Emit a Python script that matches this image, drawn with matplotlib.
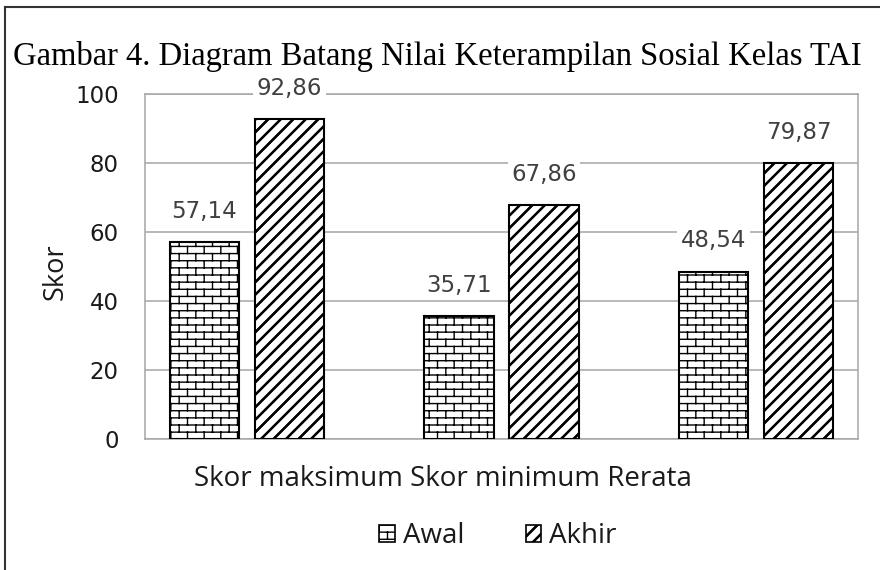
import warnings
warnings.filterwarnings("ignore")
import numpy as np
import matplotlib
matplotlib.use("Agg")
import matplotlib.pyplot as plt
import matplotlib.hatch as mhatch
from matplotlib.path import Path
from matplotlib.patches import Patch
from matplotlib.lines import Line2D

# ---- data ----
categories = ["Skor maksimum", "Skor minimum", "Rerata"]
series_names = ["Awal", "Akhir"]
awal = [57.14, 35.71, 48.54]
akhir = [92.86, 67.86, 79.87]
yticks = [0, 20, 40, 60, 80, 100]
title = "Gambar 4. Diagram Batang Nilai Keterampilan Sosial Kelas TAI"


# ---- custom hatches ----
class BrickHatch(mhatch.HatchPatternBase):
    R = 14
    B = 6

    def __init__(self, hatch, density):
        self.active = hatch.count('b') > 0
        self.num_vertices = (self.R + (self.R + 1) * self.B) * 2 if self.active else 0

    def set_vertices_and_codes(self, vertices, codes):
        R, B = self.R, self.B
        segs = []
        for i in range(R):
            y = (i + 0.5) / R
            segs.append(((0.0, y), (1.0, y)))
        for i in range(-1, R):
            y0 = (i + 0.5) / R
            y1 = (i + 1.5) / R
            off = 0.25 + 0.5 * (i % 2)
            for j in range(B):
                x = (j + off) / B
                segs.append(((x, y0), (x, y1)))
        vertices[:] = np.array(segs, dtype=float).reshape(-1, 2)
        codes[0::2] = Path.MOVETO
        codes[1::2] = Path.LINETO


class StripeHatch(mhatch.HatchPatternBase):
    N = 8
    OFFS = (-0.008, 0.0, 0.008)

    def __init__(self, hatch, density):
        self.active = hatch.count('d') > 0
        self.num_vertices = (2 * self.N + 1) * len(self.OFFS) * 2 if self.active else 0

    def set_vertices_and_codes(self, vertices, codes):
        segs = []
        for k in range(-self.N, self.N + 1):
            for o in self.OFFS:
                c = k / self.N + o
                segs.append(((c, 0.0), (1.0 + c, 1.0)))
        vertices[:] = np.array(segs, dtype=float).reshape(-1, 2)
        codes[0::2] = Path.MOVETO
        codes[1::2] = Path.LINETO


mhatch._hatch_types.append(BrickHatch)
mhatch._hatch_types.append(StripeHatch)

plt.rcParams['hatch.linewidth'] = 1.0
plt.rcParams['hatch.color'] = 'black'

W, H = 880, 570
fig = plt.figure(figsize=(W / 100, H / 100), dpi=100)
fig.patch.set_facecolor('white')

ax = fig.add_axes([145 / W, 1 - 439 / H, 713 / W, 345 / H])

x = np.arange(len(categories))
bw = 0.272
off = 0.167
bars1 = ax.bar(x - off, awal, bw, facecolor='white', edgecolor='black',
               linewidth=1.5, hatch='b', zorder=3, label=series_names[0])
bars2 = ax.bar(x + off, akhir, bw, facecolor='white', edgecolor='black',
               linewidth=1.5, hatch='d', zorder=3, label=series_names[1])

ax.set_xlim(-0.4, 2.4)
ax.set_ylim(0, 100)
ax.set_yticks(yticks)
ax.set_yticklabels([str(v) for v in yticks], fontsize=16.5,
                   family='DejaVu Sans', color='#1a1a1a')
ax.set_xticks([])
ax.tick_params(axis='y', length=0, pad=19)
ax.grid(axis='y', color='#a6a6a6', linewidth=1.1, zorder=0)
for s in ax.spines.values():
    s.set_color('#a6a6a6')
    s.set_linewidth(1.1)

ax.set_ylabel("Skor", fontsize=19.5, family='Open Sans', color='#1a1a1a')
ax.yaxis.set_label_coords((70 - 145) / 713, (439 - 272) / 345)

for bars, vals in ((bars1, awal), (bars2, akhir)):
    for b, v in zip(bars, vals):
        ax.annotate(f"{v:.2f}".replace('.', ','),
                    (b.get_x() + b.get_width() / 2, v),
                    xytext=(0, 22), textcoords='offset points',
                    ha='center', va='center', fontsize=16.5, family='DejaVu Sans',
                    color='#404040', zorder=5,
                    bbox=dict(boxstyle='square,pad=0.15', fc='white', ec='none'))

# category text (as rendered in the source: one line)
fig.text(443 / W, 1 - 479 / H, " ".join(categories), ha='center', va='center',
         fontsize=20, family='Open Sans', color='#1a1a1a')

handles = [Patch(facecolor='white', edgecolor='black', hatch='b', linewidth=1.2),
           Patch(facecolor='white', edgecolor='black', hatch='d', linewidth=1.2)]
leg = fig.legend(handles, series_names, loc='center', bbox_to_anchor=(498 / W, 1 - 536 / H),
                 ncol=2, frameon=False, prop={'family': 'Open Sans', 'size': 20},
                 handlelength=0.55, handleheight=0.55, handletextpad=0.3,
                 columnspacing=2.2)
for t in leg.get_texts():
    t.set_color('#1a1a1a')

fig.text(437 / W, 1 - 57 / H, title, ha='center', va='center',
         fontsize=23.5, family='Liberation Serif', color='black')

# outer frame (left and top edges)
fig.add_artist(Line2D([5 / W, 5 / W], [0, 1 - 7 / H], transform=fig.transFigure,
                      color='#333333', linewidth=1.5))
fig.add_artist(Line2D([5 / W, 1], [1 - 7 / H, 1 - 7 / H], transform=fig.transFigure,
                      color='#333333', linewidth=1.5))

fig.savefig("out.png", dpi=100, facecolor='white')
